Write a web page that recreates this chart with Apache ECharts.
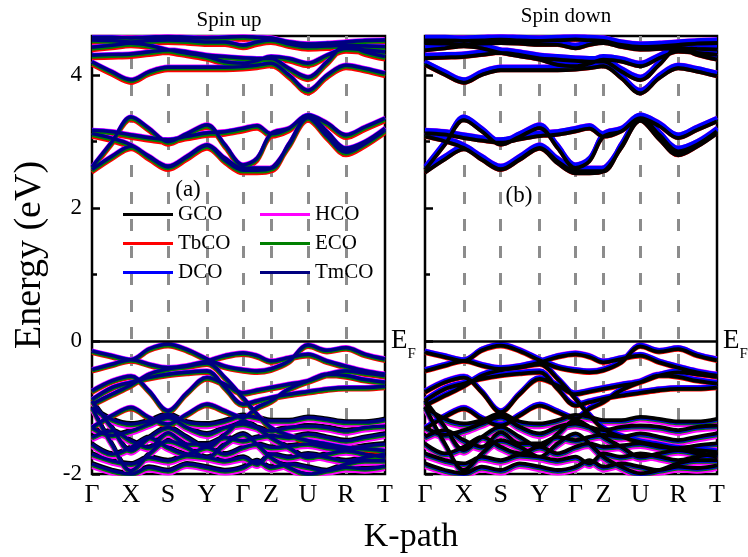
<!DOCTYPE html>
<html><head><meta charset="utf-8">
<script src="https://cdn.jsdelivr.net/npm/echarts@6/dist/echarts.min.js"></script>
<style>html,body{margin:0;padding:0;background:#fff}#c{width:748px;height:557px}</style>
</head><body><div id="c"></div>
<script>
// ---- data ----
const kTicks = [0, 39, 76, 115, 151, 179, 216, 254, 293];
const kLabels = ['Γ', 'X', 'S', 'Y', 'Γ', 'Z', 'U', 'R', 'T'];
const kGrid = [0, 20, 39, 57, 76, 95, 115, 133, 151, 165, 179, 197, 216, 235, 254, 273, 293];
const yTicks = [-2, 0, 2, 4];
const yMinorTicks = [1, 3];

const colors = { GCO: '#000000', TbCO: '#ff0000', DCO: '#0000ff', HCO: '#ff00ff', ECO: '#008000', TmCO: '#000080' };

// conduction bands (eV) at kGrid
const cbA = [2.62, 3.0, 3.37, 3.2, 3.0, 3.12, 3.25, 2.95, 2.65, 2.75, 3.12, 3.2, 3.4, 3.15, 2.9, 3.0, 3.2];
const cbB = [3.12, 3.05, 2.95, 2.78, 2.63, 2.78, 2.95, 2.75, 2.6, 2.6, 2.6, 2.97, 3.37, 3.1, 2.85, 2.98, 3.18];
const cbC = [2.58, 2.78, 2.93, 2.77, 2.62, 2.77, 2.94, 2.72, 2.57, 2.57, 2.6, 2.95, 3.36, 3.08, 2.84, 2.97, 3.17];
const cbD = [3.17, 3.15, 3.1, 3.06, 3.03, 3.08, 3.13, 3.15, 3.2, 3.24, 3.12, 3.2, 3.4, 3.28, 3.1, 3.22, 3.35];
const cu1 = [4.2, 4.05, 3.93, 4.05, 4.12, 4.12, 4.12, 4.12, 4.13, 4.15, 4.18, 4.0, 3.77, 4.0, 4.15, 4.1, 4.03];
const cu2 = [4.3, 4.31, 4.32, 4.35, 4.38, 4.35, 4.3, 4.28, 4.26, 4.25, 4.25, 4.1, 3.97, 4.2, 4.45, 4.35, 4.28];
const cu3 = [4.53, 4.52, 4.5, 4.52, 4.53, 4.52, 4.5, 4.5, 4.45, 4.5, 4.53, 4.47, 4.43, 4.44, 4.45, 4.44, 4.43];
const cu4 = [4.42, 4.45, 4.48, 4.45, 4.38, 4.33, 4.28, 4.2, 4.18, 4.22, 4.28, 4.25, 4.18, 4.3, 4.4, 4.38, 4.35];
const cu5 = [4.57, 4.57, 4.56, 4.57, 4.58, 4.57, 4.56, 4.57, 4.58, 4.57, 4.56, 4.5, 4.47, 4.48, 4.5, 4.52, 4.53];

// upper valence bands
const v1 = [-0.15, -0.22, -0.28, -0.12, -0.05, -0.13, -0.27, -0.38, -0.43, -0.45, -0.42, -0.3, -0.06, -0.14, -0.1, -0.2, -0.27];
const v2 = [-0.43, -0.35, -0.28, -0.35, -0.4, -0.37, -0.3, -0.22, -0.18, -0.22, -0.3, -0.25, -0.2, -0.3, -0.38, -0.45, -0.5];
const v3 = [-0.75, -0.6, -0.53, -0.75, -1.05, -0.78, -0.55, -0.65, -0.78, -0.74, -0.7, -0.65, -0.6, -0.5, -0.45, -0.48, -0.52];
const v4 = [-0.88, -0.7, -0.62, -0.55, -0.5, -0.47, -0.45, -0.7, -0.95, -0.9, -0.85, -0.8, -0.76, -0.72, -0.7, -0.7, -0.68];
const v5 = [-0.95, -0.8, -0.66, -0.5, -0.42, -0.38, -0.33, -0.55, -0.85, -1.1, -1.3, -1.42, -1.5, -1.55, -1.6, -1.62, -1.65];
const v6 = [-1.3, -1.12, -1.0, -1.15, -1.25, -1.1, -0.95, -1.05, -1.15, -1.0, -0.9, -0.72, -0.6, -0.5, -0.52, -0.58, -0.62];

// deep valence bands
const d1 = [-1.0, -1.18, -1.25, -1.2, -1.1, -1.22, -1.25, -1.2, -1.12, -1.15, -1.2, -1.2, -1.15, -1.18, -1.22, -1.22, -1.18];
const d2 = [-1.3, -1.42, -1.35, -1.25, -1.15, -1.3, -1.4, -1.3, -1.25, -1.3, -1.35, -1.3, -1.28, -1.3, -1.35, -1.3, -1.28];
const d3 = [-1.45, -1.35, -1.5, -1.6, -1.38, -1.55, -1.55, -1.45, -1.5, -1.45, -1.42, -1.45, -1.4, -1.45, -1.5, -1.45, -1.4];
const d4 = [-1.55, -1.7, -1.6, -1.45, -1.6, -1.7, -1.6, -1.7, -1.6, -1.55, -1.6, -1.58, -1.55, -1.6, -1.62, -1.58, -1.55];
const d5 = [-1.7, -1.8, -1.85, -1.75, -1.8, -1.72, -1.75, -1.8, -1.75, -1.85, -1.7, -1.75, -1.7, -1.75, -1.8, -1.75, -1.7];
const d6 = [-1.85, -1.95, -2.0, -1.9, -1.95, -1.85, -1.9, -1.95, -1.9, -1.8, -1.9, -1.85, -1.9, -1.95, -1.9, -1.92, -1.88];
const d7 = [-0.9, -1.3, -1.65, -1.45, -1.3, -1.45, -1.6, -1.4, -1.2, -1.3, -1.45, -1.6, -1.75, -1.7, -1.65, -1.7, -1.75];
const d8 = [-1.0, -1.55, -1.95, -1.7, -1.5, -1.6, -1.75, -1.55, -1.4, -1.55, -1.75, -1.9, -2.0, -1.95, -1.85, -1.8, -1.8];

// small per-compound shifts (eV): [conduction, upper valence, deep valence]
const shiftUp   = { GCO: [-0.01, -0.01, 0.02], HCO: [0.015, 0.015, -0.05], TbCO: [-0.05, -0.035, -0.03], DCO: [0.005, 0.005, -0.01], ECO: [-0.025, -0.02, -0.02], TmCO: [0, 0, 0] };
const shiftDown = { GCO: [-0.045, -0.02, 0.01], HCO: [0.015, 0.015, -0.05], TbCO: [-0.05, -0.035, -0.03], DCO: [0.012, 0.01, -0.005], ECO: [-0.025, -0.02, -0.02], TmCO: [0, 0, 0] };
const orderUp = ['GCO', 'TbCO', 'HCO', 'DCO', 'ECO', 'TmCO'];
const orderDown = ['TbCO', 'HCO', 'ECO', 'TmCO', 'DCO', 'GCO'];

// ---- build ----
const FONT = '"Liberation Serif", "Times New Roman", serif';
const groups = [[cbA, cbB, cbC, cbD, cu1, cu2, cu3, cu4, cu5], [v1, v2, v3, v4, v5, v6], [d1, d2, d3, d4, d5, d6, d7, d8]];

function build(shift) {
  const out = [];
  groups.forEach((bands, gi) => bands.forEach(b => {
    b.forEach((e, i) => out.push([kGrid[i], +(e + shift[gi]).toFixed(3)]));
    out.push([kGrid[kGrid.length - 1], null]);
  }));
  return out;
}

const series = [];
[[orderUp, shiftUp], [orderDown, shiftDown]].forEach(([order, shifts], p) => {
  series.push({
    type: 'line', xAxisIndex: p, yAxisIndex: p * 2, data: [], silent: true, z: 1,
    markLine: { silent: true, symbol: 'none', z: 1, label: { show: false }, animation: false,
      lineStyle: { type: [12, 15], color: '#8c8c8c', width: 3 },
      data: kTicks.slice(1, -1).map(v => ({ xAxis: v })) }
  });
  order.forEach(m => {
    series.push({
      type: 'line', name: m, xAxisIndex: p, yAxisIndex: p * 2, data: build(shifts[m]),
      smooth: 0.35, symbol: 'none', showSymbol: false, connectNulls: false, silent: true, z: 3,
      color: colors[m], lineStyle: { width: m === 'GCO' && p === 1 ? 3.8 : 3.4, color: colors[m] }
    });
  });
  series.push({
    type: 'line', xAxisIndex: p, yAxisIndex: p * 2, data: [], silent: true, z: 10,
    markLine: { silent: true, symbol: 'none', z: 10, animation: false,
      lineStyle: { type: 'solid', color: '#000', width: 2.5 },
      label: { show: true, position: 'end', distance: 6, formatter: '{e|E}{f|F}', color: '#000',
        rich: { e: { fontSize: 27, fontFamily: FONT, color: '#000' }, f: { fontSize: 15, fontFamily: FONT, color: '#000', padding: [26, 0, 0, 0] } } },
      data: [{ yAxis: 0 }] }
  });
});

const grids = [{ left: 92, top: 36, width: 293, height: 438 }, { left: 425, top: 36, width: 292, height: 438 }];
const xAxes = [], yAxes = [];
grids.forEach((g, p) => {
  xAxes.push({ type: 'value', gridIndex: p, min: 0, max: 293, axisLine: { show: false }, axisTick: { show: false }, splitLine: { show: false },
    axisLabel: { customValues: kTicks, formatter: v => kLabels[kTicks.indexOf(v)], fontSize: 26, fontFamily: FONT, color: '#000', margin: 8 } });
  yAxes.push({ type: 'value', gridIndex: p, position: 'left', min: -2, max: 4.59, interval: 2, axisLine: { show: false }, splitLine: { show: false },
    axisTick: { inside: true, length: 8, customValues: yTicks, lineStyle: { width: 2.5, color: '#000' } },
    axisLabel: { show: p === 0, customValues: yTicks, fontSize: 23, fontFamily: FONT, color: '#000', margin: 10 } });
  yAxes.push({ type: 'value', gridIndex: p, position: 'left', min: -2, max: 4.59, axisLine: { show: false }, splitLine: { show: false },
    axisTick: { inside: true, length: 5, customValues: yMinorTicks, lineStyle: { width: 2.5, color: '#000' } },
    axisLabel: { show: false } });
});

const legendBase = { orient: 'vertical', itemWidth: 50, itemHeight: 3, itemGap: 8, icon: 'rect', selectedMode: false,
  textStyle: { fontSize: 21, fontFamily: FONT, color: '#000' } };

const option = {
  animation: false,
  backgroundColor: '#fff',
  grid: grids.map(g => Object.assign({ show: true, borderColor: '#000', borderWidth: 2.5, backgroundColor: 'transparent' }, g)),
  xAxis: xAxes,
  yAxis: yAxes,
  legend: [
    Object.assign({ data: ['GCO', 'TbCO', 'DCO'], left: 118, top: 199 }, legendBase),
    Object.assign({ data: ['HCO', 'ECO', 'TmCO'], left: 255, top: 199 }, legendBase)
  ],
  graphic: [
    { type: 'text', x: 229, y: 20, style: { text: 'Spin up', font: '21px ' + FONT, fill: '#000', align: 'center', verticalAlign: 'middle' } },
    { type: 'text', x: 566, y: 16, style: { text: 'Spin down', font: '21px ' + FONT, fill: '#000', align: 'center', verticalAlign: 'middle' } },
    { type: 'text', x: 188, y: 190, style: { text: '(a)', font: '23px ' + FONT, fill: '#000', align: 'center', verticalAlign: 'middle' } },
    { type: 'text', x: 519, y: 196, style: { text: '(b)', font: '23px ' + FONT, fill: '#000', align: 'center', verticalAlign: 'middle' } },
    { type: 'text', x: 411, y: 537, style: { text: 'K-path', font: '34px ' + FONT, fill: '#000', align: 'center', verticalAlign: 'middle' } },
    { type: 'text', x: 30, y: 255, rotation: Math.PI / 2, style: { text: 'Energy (eV)', font: '38px ' + FONT, fill: '#000', align: 'center', verticalAlign: 'middle' } }
  ],
  series: series
};

const chart = echarts.init(document.getElementById('c'), null, { renderer: 'canvas' });
chart.setOption(option);
</script></body></html>
